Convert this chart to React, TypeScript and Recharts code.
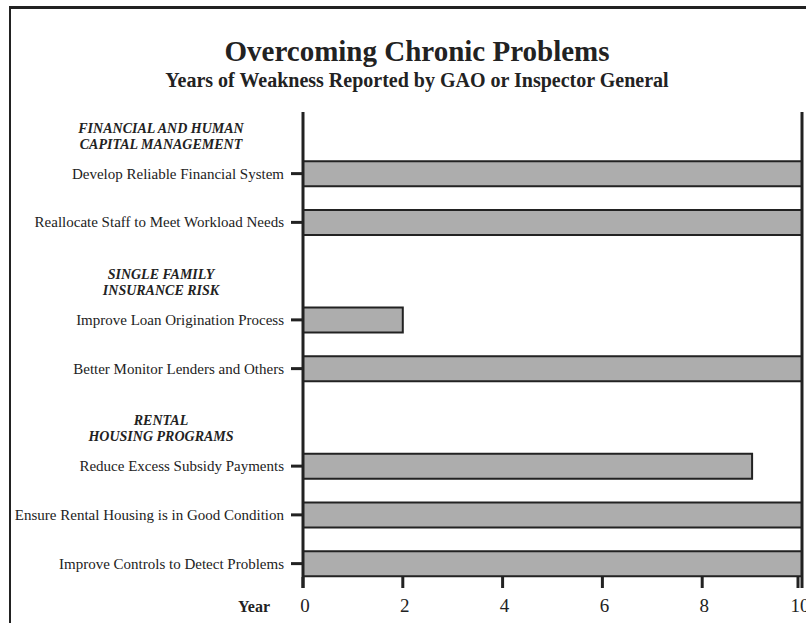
import { BarChart, Bar, XAxis, YAxis, ReferenceLine } from 'recharts';

const FONT = '"Liberation Serif", "Times New Roman", serif';
const INK = '#222';

const tasks = [
  'FINANCIAL AND HUMAN|CAPITAL MANAGEMENT',
  'Develop Reliable Financial System',
  'Reallocate Staff to Meet Workload Needs',
  'SINGLE FAMILY|INSURANCE RISK',
  'Improve Loan Origination Process',
  'Better Monitor Lenders and Others',
  'RENTAL|HOUSING PROGRAMS',
  'Reduce Excess Subsidy Payments',
  'Ensure Rental Housing is in Good Condition',
  'Improve Controls to Detect Problems',
];

// null = group heading, no bar
const years = [null, 10, 10, null, 2, 10, null, 9, 10, 10];

const yearTicks = [0, 2, 4, 6, 8, 10];

const data = tasks.map((task, i) => ({ task, years: years[i] }));

function TaskTick({ x, y, payload }: any) {
  const value: string = payload.value;
  if (value.includes('|')) {
    const [l1, l2] = value.split('|');
    return (
      <g>
        <text x={161} y={y + 8} textAnchor="middle" fontFamily={FONT} fontSize={14} fontWeight="bold" fontStyle="italic" fill={INK}>
          {l1}
        </text>
        <text x={161} y={y + 24} textAnchor="middle" fontFamily={FONT} fontSize={14} fontWeight="bold" fontStyle="italic" fill={INK}>
          {l2}
        </text>
      </g>
    );
  }
  return (
    <g>
      <line x1={x - 12} x2={x} y1={y} y2={y} stroke={INK} strokeWidth={3} />
      <text x={x - 19} y={y + 5} textAnchor="end" fontFamily={FONT} fontSize={15} fill={INK}>
        {value}
      </text>
    </g>
  );
}

function YearTick({ x, y, payload }: any) {
  return (
    <g>
      <line x1={x} x2={x} y1={y - 11} y2={y} stroke={INK} strokeWidth={3} />
      <text x={x + 2} y={y + 24} textAnchor="middle" fontFamily={FONT} fontSize={19} fill={INK}>
        {payload.value}
      </text>
    </g>
  );
}

function YearLabel({ viewBox }: any) {
  return (
    <text x={viewBox.x - 33} y={viewBox.y + 24} textAnchor="end" fontFamily={FONT} fontSize={16} fontWeight="bold" fill={INK}>
      Year
    </text>
  );
}

export default function App() {
  return (
    <div style={{ position: 'fixed', left: 0, top: 0, width: 806, height: 623, overflow: 'hidden', background: '#fff' }}>
      <div
        style={{
          position: 'absolute',
          left: 9,
          top: 6,
          width: 900,
          height: 700,
          borderTop: `3px solid ${INK}`,
          borderLeft: `2px solid ${INK}`,
        }}
      />
      <svg width={806} height={100} style={{ position: 'absolute', left: 0, top: 0 }}>
        <text x={417} y={61} textAnchor="middle" fontFamily={FONT} fontSize={29} fontWeight="bold" fill={INK}>
          Overcoming Chronic Problems
        </text>
        <text x={417} y={87} textAnchor="middle" fontFamily={FONT} fontSize={20} fontWeight="bold" fill={INK}>
          Years of Weakness Reported by GAO or Inspector General
        </text>
      </svg>
      <div style={{ position: 'absolute', left: 0, top: 0 }}>
        <BarChart
          width={806}
          height={623}
          data={data}
          layout="vertical"
          margin={{ top: 112, right: 4, bottom: 0, left: 0 }}
        >
          <XAxis
            type="number"
            domain={[0, 10]}
            ticks={yearTicks}
            height={35}
            axisLine={false}
            tickLine={false}
            tickSize={0}
            tickMargin={0}
            tick={<YearTick />}
            label={<YearLabel />}
          />
          <XAxis
            xAxisId="top"
            orientation="top"
            type="number"
            domain={[0, 10]}
            height={0}
            tick={false}
            tickLine={false}
            axisLine={{ stroke: INK, strokeWidth: 3 }}
          />
          <YAxis
            type="category"
            dataKey="task"
            width={303}
            padding={{ top: -11.5, bottom: 0 }}
            axisLine={{ stroke: INK, strokeWidth: 3 }}
            tickLine={false}
            tickSize={0}
            tickMargin={0}
            interval={0}
            tick={<TaskTick />}
          />
          <ReferenceLine x={10} stroke={INK} strokeWidth={3} />
          <Bar dataKey="years" barSize={25} fill="#adadad" stroke={INK} strokeWidth={2} isAnimationActive={false} />
        </BarChart>
      </div>
    </div>
  );
}
